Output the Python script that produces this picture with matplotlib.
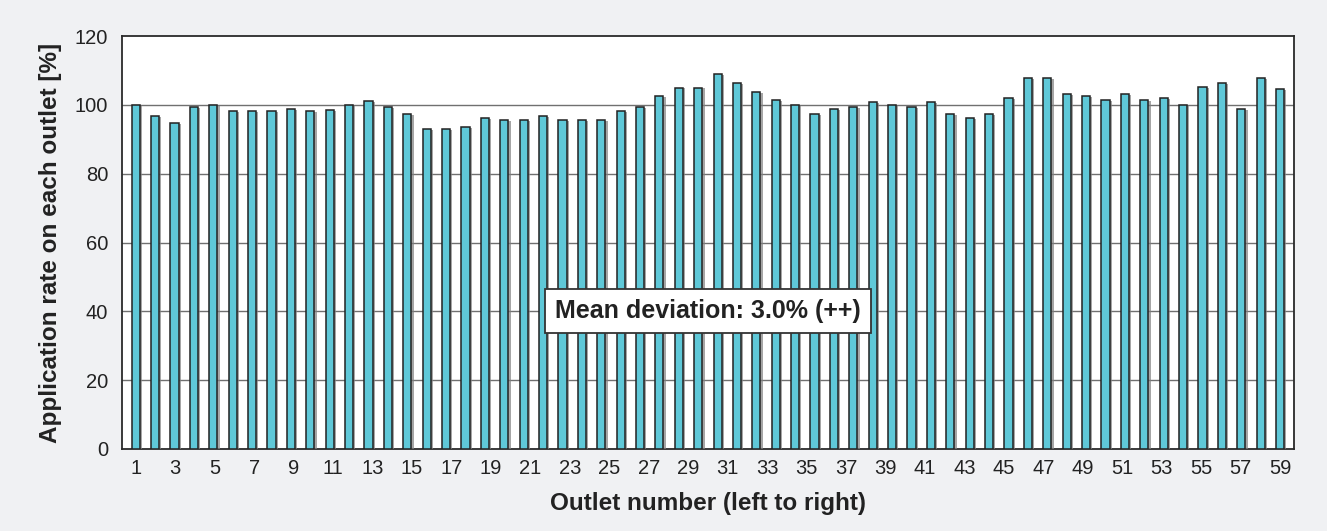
import matplotlib.pyplot as plt
import matplotlib.patheffects as pe
import numpy as np

plt.rcParams['font.family'] = ['Liberation Sans', 'DejaVu Sans']

# application rate per outlet [%]
outlets = np.arange(1, 61)
rates = [
    100.0, 96.8, 94.7, 99.3, 100.0, 98.1, 98.1, 98.1, 98.7, 98.1,
    98.5, 100.0, 101.2, 99.3, 97.4, 92.9, 92.9, 93.6, 96.1, 95.6,
    95.6, 96.8, 95.6, 95.6, 95.6, 98.1, 99.3, 102.5, 105.0, 105.0,
    108.9, 106.3, 103.8, 101.3, 100.0, 97.4, 98.7, 99.3, 100.7, 100.0,
    99.3, 100.7, 97.4, 96.1, 97.4, 101.9, 107.7, 107.7, 103.2, 102.5,
    101.3, 103.2, 101.3, 101.9, 100.0, 105.1, 106.4, 98.7, 107.7, 104.5,
]
tick_labels = [str(i) for i in range(1, 60, 2)]
yticks = [0, 20, 40, 60, 80, 100, 120]
note = 'Mean deviation: 3.0% (++)'

bg = '#f0f1f3'
fig = plt.figure(figsize=(13.27, 5.31), dpi=100, facecolor=bg)
ax = fig.add_axes([122 / 1327, 1 - 449 / 531, 1172 / 1327, 413 / 531])
ax.set_facecolor('white')

for y in yticks[1:-1]:
    ax.axhline(y, color='#707070', lw=1.0, zorder=1)

bars = ax.bar(outlets, rates, width=0.42, color='#5fc8d8', edgecolor='#222222',
              linewidth=1.1, zorder=3)
for b in bars:
    b.set_path_effects([pe.SimplePatchShadow(offset=(1.6, -0.6), shadow_rgbFace='#808080', alpha=0.7),
                        pe.Normal()])

ax.set_xlim(0.29, 60.72)
ax.set_ylim(0, 120)
ax.set_yticks(yticks)
ax.set_yticklabels([str(v) for v in yticks], fontsize=14.5, color='#222222')
# 30 labels spread evenly from the first to the last bar
ax.set_xticks(np.linspace(outlets[0], outlets[-1], len(tick_labels)))
ax.set_xticklabels(tick_labels, fontsize=14.5, color='#222222')
ax.tick_params(length=0)
ax.tick_params(axis='y', pad=10)
ax.tick_params(axis='x', pad=7)

for s in ax.spines.values():
    s.set_color('#2a2a2a')
    s.set_linewidth(1.3)

ax.set_ylabel('Application rate on each outlet [%]', fontsize=17.5, fontweight='bold',
              color='#222222', labelpad=9)
ax.set_xlabel('Outlet number (left to right)', fontsize=17.5, fontweight='bold',
              color='#222222', labelpad=10)

ax.text(0.5, 40, note, transform=ax.get_yaxis_transform(), ha='center', va='center',
        fontsize=18, fontweight='bold', color='#222222', zorder=5,
        bbox=dict(boxstyle='square,pad=0.4', facecolor='white', edgecolor='#333333', linewidth=1.3))

fig.savefig('out.png', dpi=100, facecolor=bg)
